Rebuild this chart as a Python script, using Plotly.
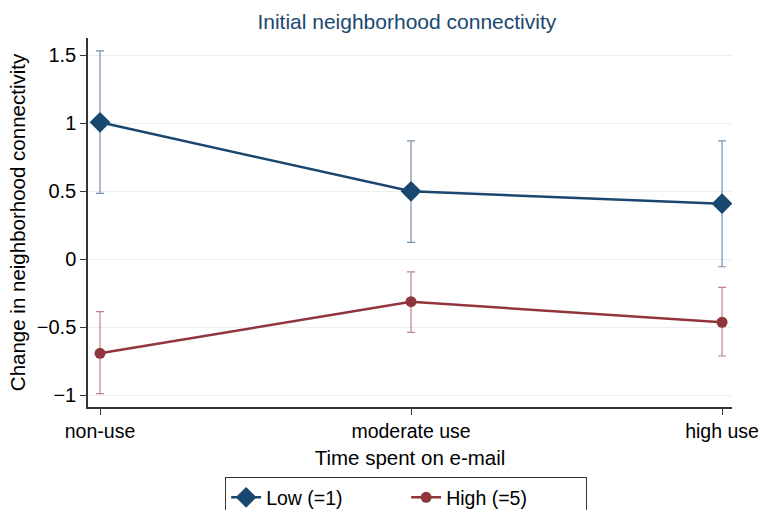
import plotly.graph_objects as go

categories = ["non-use", "moderate use", "high use"]
low_vals = [1.005, 0.498, 0.407]
low_upper = [1.53, 0.868, 0.868]
low_lower = [0.483, 0.123, -0.057]
high_vals = [-0.693, -0.314, -0.465]
high_upper = [-0.387, -0.094, -0.208]
high_lower = [-0.99, -0.539, -0.713]
y_ticks = [-1, -0.5, 0, 0.5, 1, 1.5]
y_ticktext = ["\u22121", "\u22120.5", "0", "0.5", "1", "1.5"]

BLUE = "#1a476f"
RED = "#90353b"
xs = list(range(len(categories)))

def err(vals, up, lo, color):
    return dict(type="data", symmetric=False,
                array=[u - v for u, v in zip(up, vals)],
                arrayminus=[v - l for v, l in zip(vals, lo)],
                thickness=1.2, width=4, color=color)

fig = go.Figure()
fig.add_trace(go.Scatter(x=xs, y=low_vals, mode="lines+markers", name="Low (=1)",
                         line=dict(color=BLUE, width=2.5),
                         marker=dict(symbol="diamond", size=16, color=BLUE),
                         error_y=err(low_vals, low_upper, low_lower, "rgba(26,71,111,0.6)")))
fig.add_trace(go.Scatter(x=xs, y=high_vals, mode="lines+markers", name="High (=5)",
                         line=dict(color=RED, width=2.5),
                         marker=dict(symbol="circle", size=11, color=RED),
                         error_y=err(high_vals, high_upper, high_lower, "rgba(144,53,59,0.6)")))

fig.update_layout(
    width=759, height=510,
    margin=dict(l=88, r=27, t=38, b=103, autoexpand=False),
    paper_bgcolor="white", plot_bgcolor="white",
    font=dict(family="Liberation Sans, Arial, sans-serif", size=19, color="#000000"),
    title=dict(text="Initial neighborhood connectivity", x=0.536, xanchor="center",
               y=0.957, yanchor="middle", font=dict(size=21, color=BLUE)),
    xaxis=dict(range=[-0.0386, 2.032], tickvals=xs, ticktext=categories,
               showgrid=False, zeroline=False, showline=True, linecolor="#333333",
               linewidth=1.5, ticks="outside", ticklen=6, tickcolor="#333333",
               tickfont=dict(size=19.5), automargin=False, ticklabeloverflow="allow",
               title=dict(text="Time spent on e-mail", standoff=9, font=dict(size=20.5))),
    yaxis=dict(range=[-1.088, 1.625], tickvals=y_ticks, ticktext=y_ticktext,
               showgrid=True, gridcolor="#eeeeee", gridwidth=1, zeroline=False,
               showline=True, linecolor="#333333", linewidth=1.5,
               ticks="outside", ticklen=6, tickcolor="#333333",
               tickfont=dict(size=20), automargin=False,
               title=dict(text="Change in neighborhood connectivity", standoff=6,
                          font=dict(size=20.5))),
    legend=dict(orientation="h", x=0.494, xanchor="center", y=-0.19, yanchor="top",
                bordercolor="#333333", borderwidth=1, font=dict(size=19.5),
                entrywidth=135, entrywidthmode="pixels", tracegroupgap=0),
    showlegend=True,
)
fig.write_html("out.html", config={"displayModeBar": False},
               post_script="document.body.style.margin='0';")
